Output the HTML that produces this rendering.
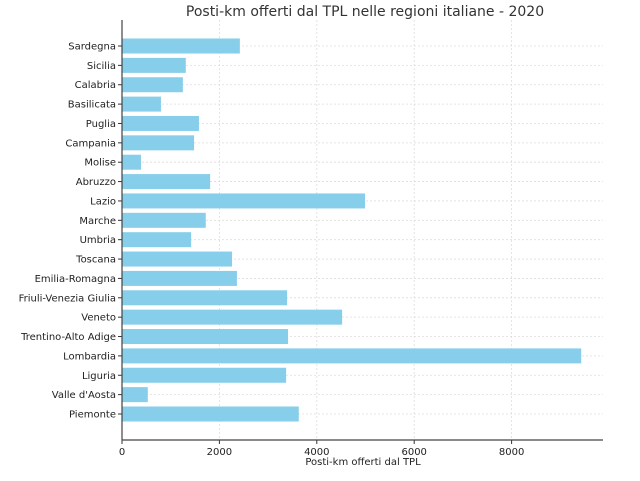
<!DOCTYPE html>
<html><head><meta charset="utf-8"><style>body{margin:0;background:#fff}svg{font-family:"DejaVu Sans","Liberation Sans",sans-serif}</style></head>
<body>
<svg id="c" width="640" height="476"></svg>
<script>
const categories=["Sardegna","Sicilia","Calabria","Basilicata","Puglia","Campania","Molise","Abruzzo","Lazio","Marche","Umbria","Toscana","Emilia-Romagna","Friuli-Venezia Giulia","Veneto","Trentino-Alto Adige","Lombardia","Liguria","Valle d'Aosta","Piemonte"];
const values=[2420,1310,1250,800,1580,1480,390,1810,4990,1720,1420,2260,2360,3390,4520,3410,9430,3370,530,3630];
const xTicks=[0,2000,4000,6000,8000];
const svg=document.getElementById('c');const NS='http://www.w3.org/2000/svg';
const L=122,R=603,T=20,B=440;
const x=v=>L+v*0.0487;
const y0=46,step=(414-46)/(categories.length-1);
const y=i=>y0+i*step;
function mk(t,a,p){const e=document.createElementNS(NS,t);for(const k in a)e.setAttribute(k,a[k]);(p||svg).appendChild(e);return e;}
let e=mk('text',{x:365,y:16,'text-anchor':'middle','font-size':14,fill:'#333'});e.textContent='Posti-km offerti dal TPL nelle regioni italiane - 2020';


xTicks.forEach(t=>{let g=mk('line',{x1:x(t),x2:x(t),y1:T,y2:B,stroke:'#ddd','stroke-dasharray':'2,2','stroke-width':0.8});


let tk=mk('line',{x1:x(t),x2:x(t),y1:B,y2:B+4,stroke:'#333'});


let tx=mk('text',{x:x(t),y:B+15,'text-anchor':'middle','font-size':10,fill:'#222'});tx.textContent=t;

});
categories.forEach((c,i)=>{let g=mk('line',{x1:L,x2:R,y1:y(i),y2:y(i),stroke:'#ddd','stroke-dasharray':'2,2','stroke-width':0.8});


let b=mk('rect',{x:L,y:y(i)-7.5,width:x(values[i])-L,height:15,fill:'#87ceeb'});


let tk=mk('line',{x1:L-4,x2:L,y1:y(i),y2:y(i),stroke:'#333'});


let tx=mk('text',{x:L-6,y:y(i)+3.5,'text-anchor':'end','font-size':10,fill:'#222'});tx.textContent=c;

});
let a1=mk('line',{x1:L,x2:L,y1:T,y2:B,stroke:'#444','stroke-width':1.2});


let a2=mk('line',{x1:L,x2:R,y1:B,y2:B,stroke:'#444','stroke-width':1.2});


let xt=mk('text',{x:363,y:465,'text-anchor':'middle','font-size':10,fill:'#222'});xt.textContent='Posti-km offerti dal TPL';


</script>
</body></html>
